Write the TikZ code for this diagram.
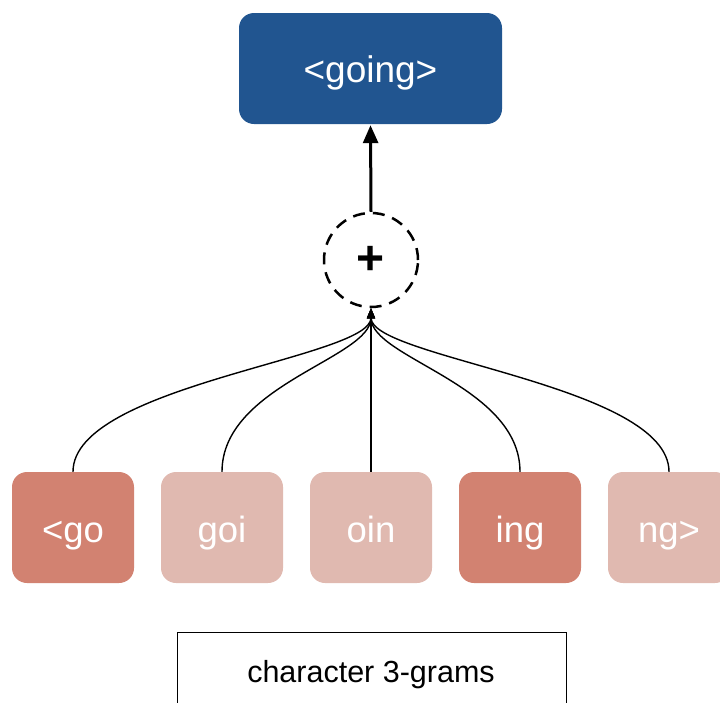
\documentclass[tikz,border=0pt]{standalone}
\usepackage{fontspec}
\setmainfont{Liberation Sans}
\usetikzlibrary{arrows.meta,calc}
\definecolor{topblue}{HTML}{215590}
\definecolor{gdark}{HTML}{D28271}
\definecolor{glight}{HTML}{E0B9B0}
\tikzset{
  gbox/.style={rounded corners=15pt, minimum width=122pt, minimum height=111pt, inner sep=0pt, text=white, text height=36pt, text depth=7pt, font=\fontsize{36.5}{40}\selectfont},
  topbox/.style={rounded corners=15pt, fill=topblue, minimum width=263pt, minimum height=111pt, inner sep=0pt, text=white, text height=34pt, text depth=7pt, font=\fontsize{37}{42}\selectfont},
  sumnode/.style={circle, draw, line width=2.5pt, dash pattern=on 12pt off 8pt, minimum size=94pt, inner sep=0pt, font=\fontsize{48}{50}\selectfont\bfseries},
  feed/.style={line width=1.4pt, -{Triangle[length=10pt,width=8pt]}},
  outarrow/.style={line width=3pt, -{Triangle[length=18pt,width=15pt]}},
}
\begin{document}
\begin{tikzpicture}[x=1pt,y=-1pt]
\useasboundingbox (0,0) rectangle (720,702);
\node[topbox] (out) at (370.5,68.5) {<going>};
\node[sumnode] (sum) at (371,260) {+};
\node[gbox, fill=gdark] (g1) at (73,527.5) {<go};
\node[gbox, fill=glight] (g2) at (222,527.5) {goi};
\node[gbox, fill=glight] (g3) at (371,527.5) {oin};
\node[gbox, fill=gdark] (g4) at (520,527.5) {ing};
\node[gbox, fill=glight] (g5) at (669,527.5) {ng>};
\draw[outarrow] (sum.north) -- ([yshift=-1pt]out.south);
\foreach \g in {g1,g2,g4,g5}
  \draw[feed] (\g.north) .. controls ($(\g.north)+(0,-87)$) and ($(sum.south)+(0,50)$) .. (sum.south);
\draw[feed] (g3.north) -- (sum.south);
\node[draw, line width=1pt, minimum width=389pt, minimum height=100pt, anchor=north, inner sep=0pt] (lab) at (371.5,632) {};
\node[font=\fontsize{30.5}{34}\selectfont, anchor=base] (labtext) at (371,682) {character 3-grams};
\end{tikzpicture}
\end{document}
